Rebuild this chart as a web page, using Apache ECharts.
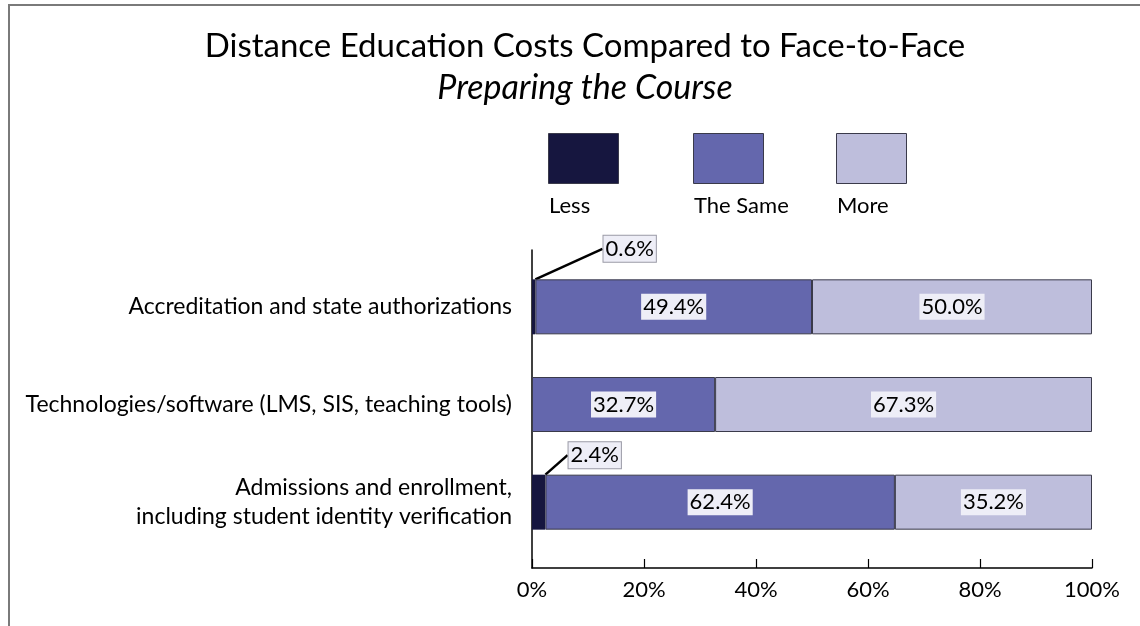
<!DOCTYPE html>
<html>
<head>
<meta charset="utf-8">
<script src="https://cdn.jsdelivr.net/npm/echarts@6/dist/echarts.min.js"></script>
<style>
  html, body { margin: 0; padding: 0; background: #fff; }
  #frame { position: absolute; left: 8px; top: 4px; width: 1140px; height: 630px;
           border-left: 2px solid #7a7a7a; border-top: 2px solid #7a7a7a; }
  #chart { position: absolute; left: 0; top: 0; width: 1140px; height: 626px; }
</style>
</head>
<body>
<div id="frame"></div>
<div id="chart"></div>
<script>
const categories = [
  'Accreditation and state authorizations',
  'Technologies/software (LMS, SIS, teaching tools)',
  'Admissions and enrollment,\nincluding student identity verification'
];
const seriesNames = ['Less', 'The Same', 'More'];
const lessValues = [0.6, 0, 2.4];
const sameValues = [49.4, 32.7, 62.4];
const moreValues = [50.0, 67.3, 35.2];
const xTicks = [0, 20, 40, 60, 80, 100];

const colors = ['#16163f', '#6467ad', '#bebedc'];
const font = 'Lato, "Open Sans", sans-serif';

// where the small "Less" labels are pulled out to (pixel offsets)
const lessLabelShift = { 0: { dx: 96, dy: -58 }, 2: { dx: 56, dy: -47 } };

const mychart = echarts.init(document.getElementById('chart'));

const labelBox = {
  show: true,
  position: 'inside',
  color: '#000',
  fontFamily: font,
  fontSize: 22,
  backgroundColor: '#eeeef7',
  padding: [3, 2, 1, 2],
  formatter: p => p.value.toFixed(1) + '%'
};

const valueLists = [lessValues, sameValues, moreValues];
const series = seriesNames.map((name, i) => {
  const s = {
    name: name,
    type: 'bar',
    stack: 'total',
    xAxisIndex: 1,
    yAxisIndex: 1,
    barWidth: 55,
    itemStyle: { color: colors[i], borderColor: '#3a3a4a', borderWidth: 1 },
    label: labelBox,
    data: valueLists[i].map(v => ({ value: v, label: { show: v > 0 } }))
  };
  if (i === 0) {
    s.labelLayout = p => lessLabelShift[p.dataIndex] || {};
    s.labelLine = { show: true, lineStyle: { color: '#000', width: 2.5 } };
    s.itemStyle = { color: colors[0], borderWidth: 0 };
    s.label = Object.assign({}, labelBox, { borderColor: '#9a9aa6', borderWidth: 1 });
  }
  return s;
});

const legendLeft = [548, 693, 836];
const legends = seriesNames.map((name, i) => ({
  data: [name],
  left: legendLeft[i],
  top: 133,
  padding: 0,
  itemWidth: 70,
  itemHeight: 50,
  icon: 'rect',
  formatter: () => '',
  itemStyle: { borderColor: '#3a3a4a', borderWidth: 1 }
}));

const option = {
  animation: false,
  title: {
    text: 'Distance Education Costs Compared to Face-to-Face',
    subtext: 'Preparing the Course',
    left: 580,
    textAlign: 'center',
    top: 25,
    itemGap: 8,
    textStyle: { fontFamily: font, fontSize: 33, fontWeight: 'normal', color: '#000' },
    subtextStyle: { fontFamily: font, fontSize: 34, fontStyle: 'italic', color: '#000' }
  },
  legend: legends,
  graphic: seriesNames.map((name, i) => ({
    type: 'text',
    left: legendLeft[i] + 1,
    top: 195,
    style: { text: name, fontFamily: font, fontSize: 22, fill: '#000' }
  })),
  grid: [
    { left: 532, right: 48, top: 250, bottom: 58 },
    { left: 532, right: 48, top: 258, height: 293 }
  ],
  xAxis: [
    {
      gridIndex: 0,
      type: 'value',
      min: xTicks[0],
      max: xTicks[xTicks.length - 1],
      interval: 20,
      axisLine: { show: true, lineStyle: { color: '#000', width: 1.5 } },
      axisTick: { show: true, inside: true, length: 9, lineStyle: { color: '#000', width: 1.2 } },
      splitLine: { show: false },
      axisLabel: { formatter: '{value}%', fontFamily: font, fontSize: 22, color: '#000', margin: 11 }
    },
    { gridIndex: 1, type: 'value', min: 0, max: 100, show: false }
  ],
  yAxis: [
    {
      gridIndex: 0,
      type: 'value',
      min: 0,
      max: 1,
      axisLine: { show: true, lineStyle: { color: '#000', width: 1.5 } },
      axisTick: { show: false },
      axisLabel: { show: false },
      splitLine: { show: false }
    },
    {
      gridIndex: 1,
      type: 'category',
      inverse: true,
      data: categories,
      axisLine: { show: false },
      axisTick: { show: false },
      axisLabel: {
        fontFamily: font, fontSize: 23, color: '#000', margin: 20,
        align: 'right', lineHeight: 29
      }
    }
  ],
  series: series
};

mychart.setOption(option);
window.addEventListener('resize', () => {
  mychart.resize();
});
</script>
</body>
</html>
